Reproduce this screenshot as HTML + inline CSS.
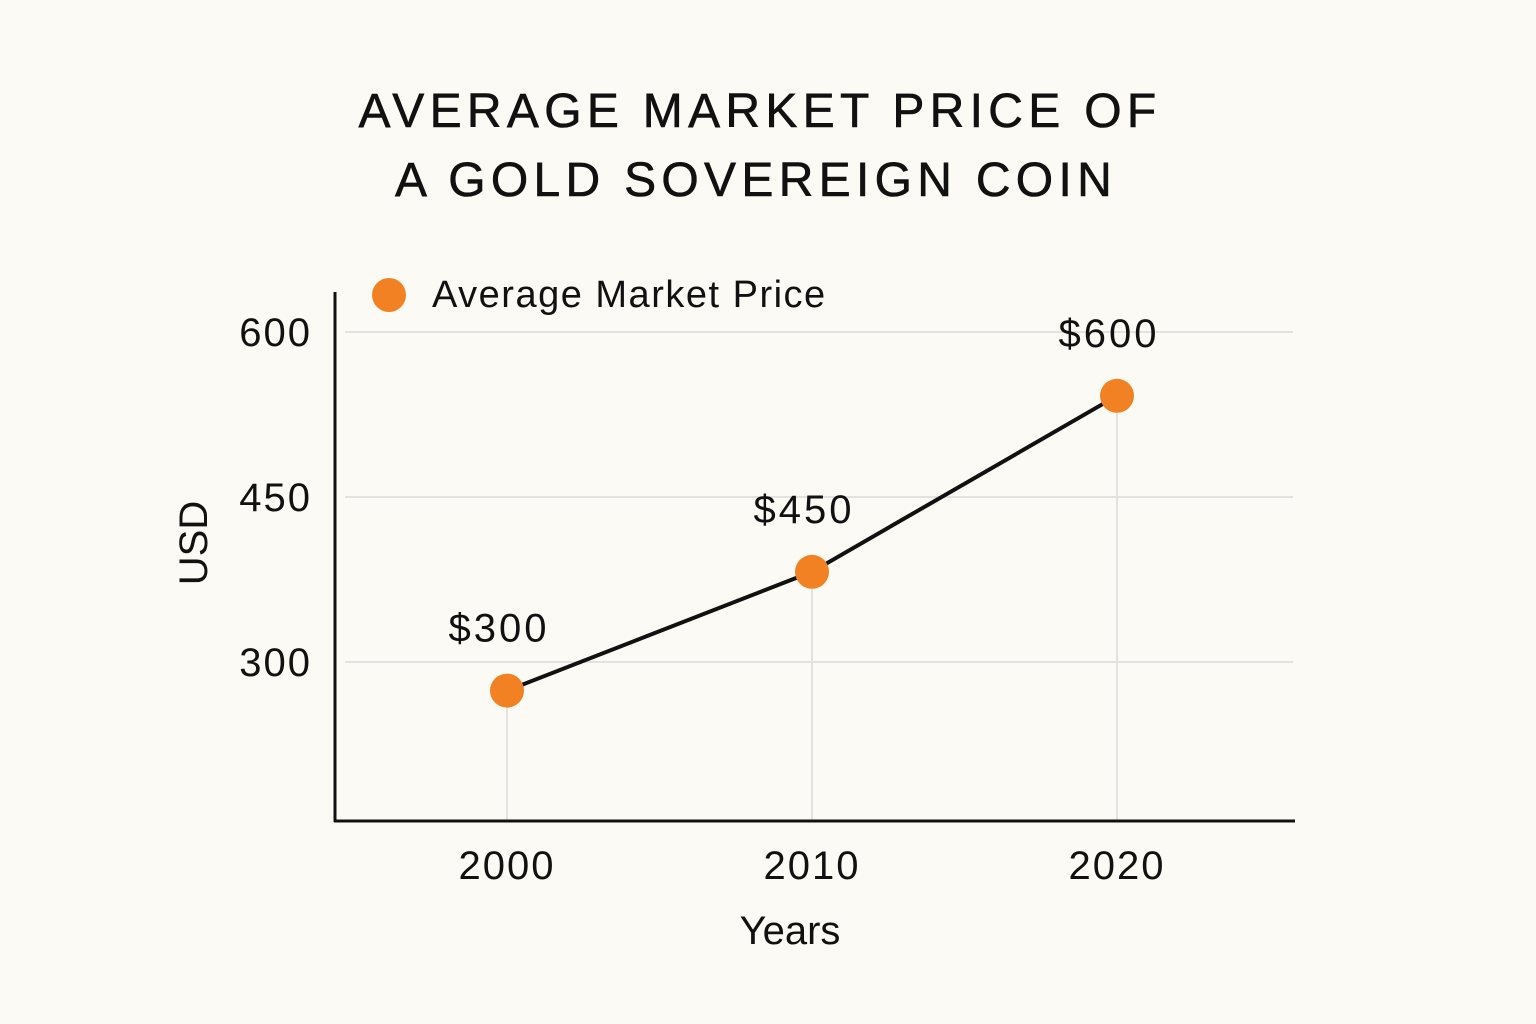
<!DOCTYPE html>
<html><head><meta charset="utf-8"><style>
body{margin:0;background:#fbfaf5;}
svg{display:block;font-family:"Liberation Sans",sans-serif;}
</style></head><body>
<svg id="chart" width="1536" height="1024" viewBox="0 0 1536 1024">
<rect width="1536" height="1024" fill="#fbfaf5"/>
<text x="760" y="127" text-anchor="middle" font-size="48" letter-spacing="5.3" fill="#111" stroke="#111" stroke-width="0.6">AVERAGE MARKET PRICE OF</text>
<text x="756" y="196" text-anchor="middle" font-size="48" letter-spacing="5.3" fill="#111" stroke="#111" stroke-width="0.6">A GOLD SOVEREIGN COIN</text>
<circle cx="389" cy="295" r="17" fill="#f28124"/>
<text x="432" y="307" font-size="38" letter-spacing="1.5" fill="#111">Average Market Price</text>
<g id="grid"></g><g id="axes"></g><g id="series"></g>
<text x="790" y="944" text-anchor="middle" font-size="40" fill="#111">Years</text>
<text transform="translate(207,543) rotate(-90)" text-anchor="middle" font-size="40" fill="#111">USD</text>
</svg>
<script>
const years=[2000,2010,2020];
const prices=[274,382,542];
const priceLabels=["$300","$450","$600"];
const yTicks=[300,450,600];
const xTickLabels=["2000","2010","2020"];
const NS="http://www.w3.org/2000/svg";
function xs(v){return 507+(v-2000)*30.5;}
function ys(v){return 662-(v-300)*1.1;}
function mk(tag,attrs,parent,txt){const e=document.createElementNS(NS,tag);for(const k in attrs)e.setAttribute(k,attrs[k]);if(txt!==undefined)e.textContent=txt;document.getElementById(parent).appendChild(e);return e;}
yTicks.forEach(t=>{
 const l=mk('line',{x1:345,x2:1293,y1:ys(t),y2:ys(t),stroke:'#e2e2e0','stroke-width':2},'grid');
 
 
 const tx=mk('text',{x:312,y:ys(t)+14,'text-anchor':'end','font-size':40,'letter-spacing':2,fill:'#111'},'grid',String(t));
 
 
});
years.forEach((y,i)=>{
 const l=mk('line',{x1:xs(y),x2:xs(y),y1:ys(prices[i]),y2:821,stroke:'#e2e2e0','stroke-width':2},'grid');
 
 
 const tx=mk('text',{x:xs(y),y:879,'text-anchor':'middle','font-size':40,'letter-spacing':2,fill:'#111'},'axes',xTickLabels[i]);
 
 
});
const ya=mk('line',{x1:335,x2:335,y1:292,y2:822,stroke:'#111','stroke-width':3},'axes');


const xa=mk('line',{x1:334,x2:1295,y1:821,y2:821,stroke:'#111','stroke-width':3},'axes');


const pl=mk('polyline',{points:years.map((y,i)=>xs(y)+','+ys(prices[i])).join(' '),fill:'none',stroke:'#111','stroke-width':4},'series');


years.forEach((y,i)=>{
 const c=mk('circle',{cx:xs(y),cy:ys(prices[i]),r:17,fill:'#f28124'},'series');
 
 
 const t=mk('text',{x:xs(y)-8,y:ys(prices[i])-49,'text-anchor':'middle','font-size':40,'letter-spacing':3,fill:'#111'},'series',priceLabels[i]);
 
 
});
</script>
</body></html>
